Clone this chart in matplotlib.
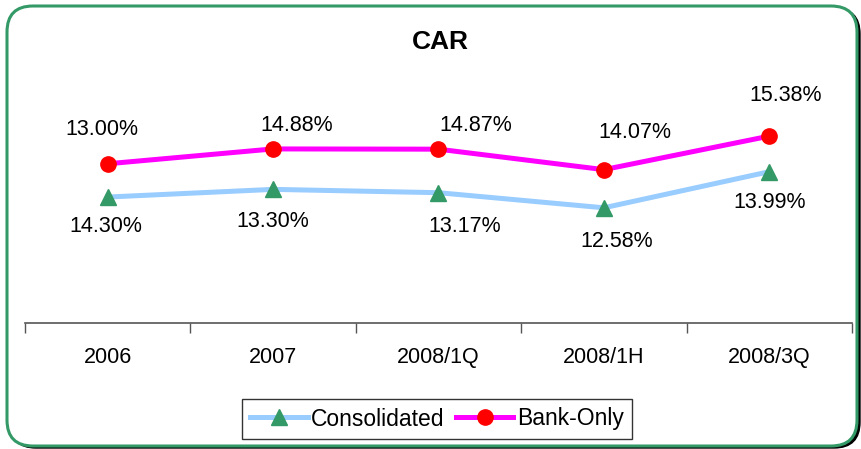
import matplotlib
matplotlib.use("Agg")
import matplotlib.pyplot as plt
from matplotlib.patches import FancyBboxPatch
from matplotlib.transforms import IdentityTransform

plt.rcParams['font.family'] = ['Liberation Sans', 'DejaVu Sans']

# --- data ---
periods = ["2006", "2007", "2008/1Q", "2008/1H", "2008/3Q"]
consolidated = [13.00, 13.30, 13.17, 12.58, 13.99]
bank_only = [14.30, 14.88, 14.87, 14.07, 15.38]
# labels as printed on the chart (2006 pair is shown swapped)
consolidated_labels = ["14.30%", "13.30%", "13.17%", "12.58%", "13.99%"]
bank_labels = ["13.00%", "14.88%", "14.87%", "14.07%", "15.38%"]

# label offsets in points (dx, dy)
bank_off = [(-4, 25), (17, 17), (27, 17), (22, 27), (12, 29)]
cons_off = [(-1, -21), (0, -23), (19, -24), (9, -24), (0, -22)]

fig = plt.figure(figsize=(8.62, 4.49), dpi=100)

# --- frame with shadow ---
shadow = FancyBboxPatch((10, 1), 850, 440, boxstyle="round,pad=0,rounding_size=26",
                        transform=IdentityTransform(), facecolor='black',
                        edgecolor='black', lw=1, zorder=0)
frame = FancyBboxPatch((7, 3), 850, 440, boxstyle="round,pad=0,rounding_size=26",
                       transform=IdentityTransform(), facecolor='white',
                       edgecolor='#339966', lw=2.2, zorder=1)
fig.patches.extend([shadow, frame])

ax = fig.add_axes([25 / 862, 1 - 323 / 449, 827 / 862, 256 / 449])
ax.set_zorder(5)
ax.set_facecolor('none')
x = list(range(len(periods)))

ax.plot(x, consolidated, color='#99CCFF', lw=3.6, marker='^', ms=12,
        mfc='#339966', mec='#339966', label='Consolidated', zorder=3)
ax.plot(x, bank_only, color='#FF00FF', lw=3.6, marker='o', ms=11,
        mfc='#FF0000', mec='#FF0000', label='Bank-Only', zorder=4)

for i, lab in enumerate(bank_labels):
    ax.annotate(lab, (x[i], bank_only[i]), xytext=bank_off[i], textcoords='offset points',
                ha='center', va='center', fontsize=15.5)
for i, lab in enumerate(consolidated_labels):
    ax.annotate(lab, (x[i], consolidated[i]), xytext=cons_off[i], textcoords='offset points',
                ha='center', va='center', fontsize=15.5)

ax.set_xlim(-0.5, len(periods) - 0.5)
ax.set_ylim(8.08, 18.08)
ax.set_yticks([])
for s in ['top', 'right', 'left']:
    ax.spines[s].set_visible(False)
ax.spines['bottom'].set_color('#555555')
ax.spines['bottom'].set_linewidth(1.2)

ax.set_xticks(x)
ax.set_xticklabels(periods, fontsize=15.5)
ax.tick_params(axis='x', which='major', length=0, pad=17)
ax.set_xticks([i - 0.5 for i in range(len(periods) + 1)], minor=True)
ax.tick_params(axis='x', which='minor', length=7, width=1, color='#555555', direction='out')

fig.text(440 / 862, 1 - 42 / 449, "CAR", ha='center', va='center',
         fontsize=19, fontweight='bold', zorder=6)

leg = ax.legend(loc='center', bbox_to_anchor=(437 / 862, 1 - 419 / 449),
                bbox_transform=fig.transFigure, ncol=2, fontsize=16.5,
                frameon=True, fancybox=False, edgecolor='black',
                handlelength=2.5, handletextpad=0.15, columnspacing=0.5,
                borderpad=0.35, borderaxespad=0)
leg.get_frame().set_linewidth(1.0)

fig.savefig("out.png", dpi=100)
